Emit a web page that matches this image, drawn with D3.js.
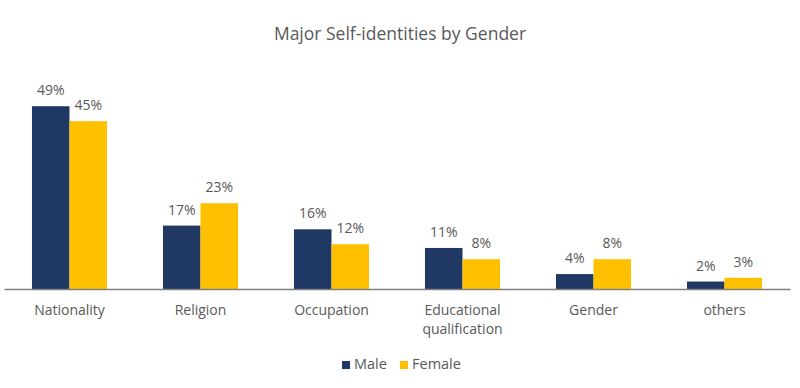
<!DOCTYPE html>
<html>
<head>
<meta charset="utf-8">
<script src="https://cdn.jsdelivr.net/npm/d3@7"></script>
<style>
  body { margin: 0; background: #fff; }
  text { font-family: "Open Sans", "Noto Sans", sans-serif; fill: #595959; }
</style>
</head>
<body>
<svg id="chart"></svg>
<script>
var width = 800;
var height = 388;
var margin = {top: 20, right: 10, bottom: 99, left: 4};
var w = width - margin.left - margin.right;
var h = height - margin.top - margin.bottom;

// data
var categories = ["Nationality", "Religion", "Occupation", "Educational qualification", "Gender", "others"];
var series = ["Male", "Female"];
var male = [49, 17, 16, 11, 4, 2];
var female = [45, 23, 12, 8, 8, 3];
var colors = ["#203864", "#FFC000"];

var svg = d3.select("#chart")
    .attr("width", width)
    .attr("height", height);

svg.append("text")
    .attr("x", width / 2)
    .attr("y", 40)
    .style("text-anchor", "middle")
    .style("font-size", "17.5px")
    .text("Major Self-identities by Gender");

var chart = svg.append("g")
    .attr("transform", "translate(" + margin.left + "," + margin.top + ")");

var x = d3.scaleBand()
    .domain(categories)
    .range([0, w])
    .paddingInner(0.427)
    .paddingOuter(0.2135);

var x1 = d3.scaleBand()
    .domain(series)
    .range([0, x.bandwidth()]);

var y = d3.scaleLinear()
    .domain([0, 50])
    .range([h, h - 50 * 3.73]);

var rows = categories.map(function(c, i) {
    return {cat: c, vals: [male[i], female[i]]};
});

var groups = chart.selectAll(".grp")
    .data(rows)
    .enter().append("g")
    .attr("class", "grp")
    .attr("transform", function(d) { return "translate(" + x(d.cat) + ",0)"; });

groups.selectAll("rect")
    .data(function(d) { return d.vals.map(function(v, j) { return {s: series[j], v: v, j: j}; }); })
    .enter().append("rect")
    .attr("x", function(d) { return x1(d.s); })
    .attr("y", function(d) { return y(d.v); })
    .attr("width", x1.bandwidth())
    .attr("height", function(d) { return h - y(d.v); })
    .style("fill", function(d) { return colors[d.j]; });

groups.selectAll(".lbl")
    .data(function(d) { return d.vals.map(function(v, j) { return {s: series[j], v: v}; }); })
    .enter().append("text")
    .attr("class", "lbl")
    .attr("x", function(d) { return x1(d.s) + x1.bandwidth() / 2; })
    .attr("y", function(d) { return y(d.v) - 11; })
    .style("text-anchor", "middle")
    .style("font-size", "14px")
    .text(function(d) { return d.v + "%"; });

var xAxis = d3.axisBottom(x).tickSize(0).tickPadding(0);
var ax = chart.append("g")
    .attr("transform", "translate(0," + h + ")")
    .call(xAxis);
ax.select(".domain").attr("stroke", "#7f7f7f").attr("stroke-width", 1.3);
ax.selectAll(".tick text").remove();
ax.selectAll(".tick").each(function(d) {
    var words = d.split(" ");
    var t = d3.select(this).append("text")
        .style("text-anchor", "middle")
        .style("font-size", "14px")
        .attr("fill", "#595959");
    words.forEach(function(wd, k) {
        t.append("tspan").attr("x", 0).attr("y", 26 + k * 19).text(wd);
    });
});

// legend
var legend = svg.append("g").attr("transform", "translate(0,369)");
var lx = [342, 400];
series.forEach(function(s, i) {
    legend.append("rect")
        .attr("x", lx[i]).attr("y", -8)
        .attr("width", 8).attr("height", 8)
        .style("fill", colors[i]);
    legend.append("text")
        .attr("x", lx[i] + 12).attr("y", 0)
        .style("font-size", "14.5px")
        .text(s);
});
</script>
</body>
</html>
